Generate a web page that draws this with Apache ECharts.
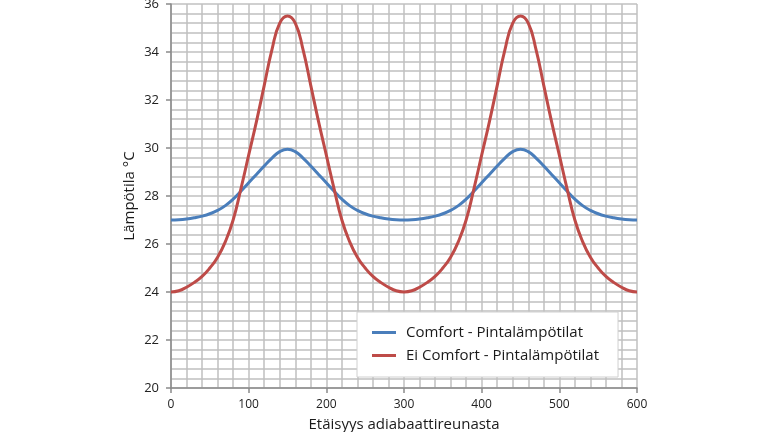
<!DOCTYPE html>
<html>
<head>
<meta charset="utf-8">
<script src="https://cdn.jsdelivr.net/npm/echarts@6/dist/echarts.min.js"></script>
<style>
html,body{margin:0;padding:0;background:#fff;}
#c{width:768px;height:432px;}
</style>
</head>
<body>
<div id="c"></div>
<script>
// Distance from the adiabatic edge (x values)
var distances = [0,10,20,30,40,50,60,70,80,90,100,110,120,130,140,150,
  160,170,180,190,200,210,220,230,240,250,260,270,280,290,300,
  310,320,330,340,350,360,370,380,390,400,410,420,430,440,450,
  460,470,480,490,500,510,520,530,540,550,560,570,580,590,600];

// Comfort - Pintalämpötilat (°C)
var comfort = [27.0,27.01,27.04,27.09,27.16,27.26,27.4,27.6,27.87,28.2,28.55,28.9,29.25,29.58,29.85,29.95,
  29.85,29.58,29.25,28.9,28.55,28.2,27.87,27.6,27.4,27.26,27.16,27.09,27.04,27.01,27.0,
  27.01,27.04,27.09,27.16,27.26,27.4,27.6,27.87,28.2,28.55,28.9,29.25,29.58,29.85,29.95,
  29.85,29.58,29.25,28.9,28.55,28.2,27.87,27.6,27.4,27.26,27.16,27.09,27.04,27.01,27.0];

// Ei Comfort - Pintalämpötilat (°C)
var eiComfort = [24.0,24.05,24.2,24.4,24.65,25.0,25.45,26.1,27.0,28.3,29.7,31.1,32.6,34.1,35.2,35.5,
  35.2,34.1,32.6,31.1,29.7,28.3,27.0,26.1,25.45,25.0,24.65,24.4,24.2,24.05,24.0,
  24.05,24.2,24.4,24.65,25.0,25.45,26.1,27.0,28.3,29.7,31.1,32.6,34.1,35.2,35.5,
  35.2,34.1,32.6,31.1,29.7,28.3,27.0,26.1,25.45,25.0,24.65,24.4,24.2,24.05,24.0];

var seriesNames = ['Comfort - Pintalämpötilat', 'Ei Comfort - Pintalämpötilat'];

function pairs(xs, ys){ return xs.map(function(x,i){ return [x, ys[i]]; }); }

var chart = echarts.init(document.getElementById('c'), null, {renderer:'canvas'});
var gridColor = '#c0c0c0';
var font = '"Open Sans", "Noto Sans", sans-serif';
chart.setOption({
  backgroundColor: '#ffffff',
  animation: false,
  grid: {left: 171, right: 131, top: 4, bottom: 44, containLabel: false, outerBoundsMode: 'none'},
  legend: {
    orient: 'vertical',
    left: 357, top: 312,
    padding: [13, 19, 14, 15],
    backgroundColor: '#ffffff',
    borderColor: '#d0d0d0',
    borderWidth: 1,
    icon: 'rect',
    itemWidth: 24, itemHeight: 3, itemGap: 8,
    textStyle: {fontFamily: font, fontSize: 15, color: '#1a1a1a', padding: [0,0,0,5]},
    data: seriesNames
  },
  xAxis: {
    type: 'value', min: 0, max: 600, interval: 100,
    name: 'Etäisyys adiabaattireunasta', nameLocation: 'middle', nameGap: 29,
    nameMoveOverlap: false,
    nameTextStyle: {fontFamily: font, fontSize: 15, color: '#1a1a1a'},
    axisLine: {show: true, onZero: false, lineStyle: {color: '#8a8a8a', width: 1.5}},
    axisTick: {show: true, length: 5, inside: false, lineStyle: {color: '#8a8a8a', width: 1.5}},
    axisLabel: {fontFamily: font, fontSize: 12, color: '#222', margin: 11},
    splitLine: {show: true, lineStyle: {color: gridColor, width: 1.5}},
    minorTick: {show: false, splitNumber: 5},
    minorSplitLine: {show: true, lineStyle: {color: gridColor, width: 1.5}}
  },
  yAxis: {
    type: 'value', min: 20, max: 36, interval: 2,
    name: 'Lämpötila °C', nameLocation: 'middle', nameGap: 34, nameRotate: 90,
    nameMoveOverlap: false,
    nameTextStyle: {fontFamily: font, fontSize: 15, color: '#1a1a1a'},
    axisLine: {show: true, onZero: false, lineStyle: {color: '#8a8a8a', width: 1.5}},
    axisTick: {show: true, length: 5, inside: false, lineStyle: {color: '#8a8a8a', width: 1.5}},
    axisLabel: {fontFamily: font, fontSize: 13, color: '#222', margin: 12},
    splitLine: {show: true, lineStyle: {color: gridColor, width: 1.5}},
    minorTick: {show: false, splitNumber: 5},
    minorSplitLine: {show: true, lineStyle: {color: gridColor, width: 1.5}}
  },
  series: [
    {
      name: seriesNames[0], type: 'line', smooth: true, symbol: 'none',
      data: pairs(distances, comfort),
      lineStyle: {color: '#4a7ebb', width: 3},
      itemStyle: {color: '#4a7ebb'}
    },
    {
      name: seriesNames[1], type: 'line', smooth: true, symbol: 'none',
      data: pairs(distances, eiComfort),
      lineStyle: {color: '#be4b48', width: 3},
      itemStyle: {color: '#be4b48'}
    }
  ]
});
</script>
</body>
</html>
